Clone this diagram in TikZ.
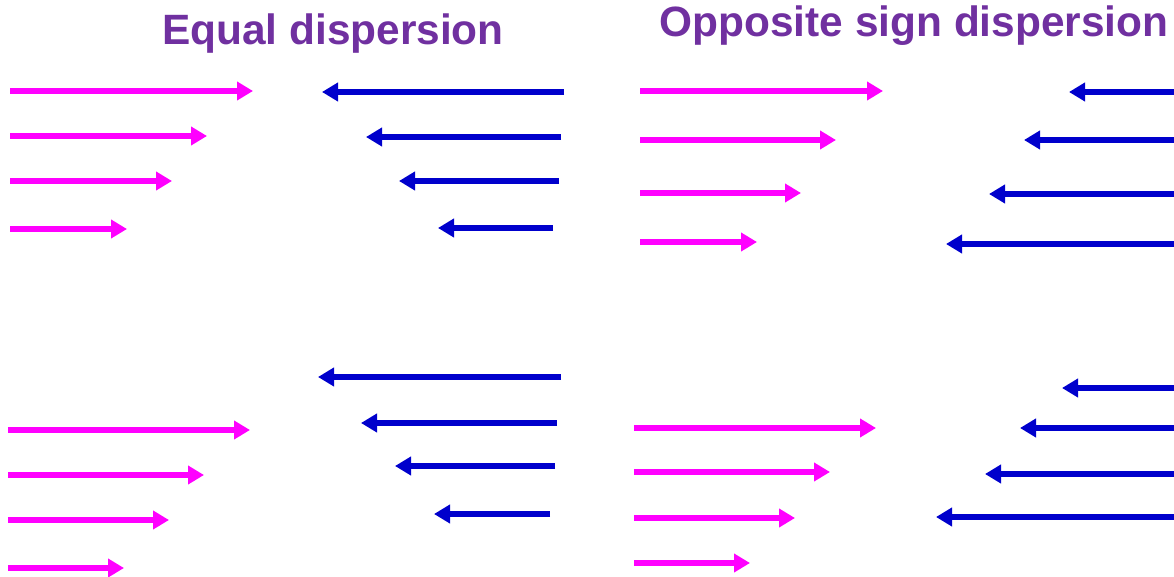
\documentclass[tikz,border=0pt]{standalone}
\usepackage{fontspec}
\setmainfont{Liberation Sans}
\usetikzlibrary{arrows.meta}
\definecolor{titlepurple}{HTML}{7030A0}
\definecolor{pulsemag}{HTML}{FF00FF}
\definecolor{pulseblue}{HTML}{0000CC}
\tikzset{
  pulse/.style={line width=5.8pt, -{Triangle[length=16pt,width=18pt]}},
  heading/.style={font=\fontsize{42.4}{46}\selectfont\bfseries, text=titlepurple, anchor=base, inner sep=0pt}
}
\begin{document}
\begin{tikzpicture}[x=1pt, y=-1pt]
  \useasboundingbox (0,0) rectangle (1174,577);
  \node[heading] (eqtitle) at (333,45) {Equal dispersion};
  \node[heading] (optitle) at (914,37) {Opposite sign dispersion};
  % magenta pulses: y / start / tip
  \foreach \y/\xa/\xb in {91/10/253, 136/10/207, 181/10/172, 229/10/127,
      91/640/883, 140/640/836, 193/640/801, 242/640/757,
      430/8/250, 475/8/204, 520/8/169, 568/8/124,
      428/634/876, 472/634/830, 518/634/795, 563/634/750}
    \draw[pulse, pulsemag] (\xa,\y) -- (\xb,\y);
  % blue pulses: y / start / tip
  \foreach \y/\xa/\xb in {92/564/322, 137/561/366, 181/559/399, 228/553/438,
      92/1174/1069, 140/1174/1024, 194/1174/989, 244/1174/946,
      377/561/318, 423/557/361, 466/555/395, 514/550/434,
      388/1174/1062, 428/1174/1020, 474/1174/985, 517/1174/936}
    \draw[pulse, pulseblue] (\xa,\y) -- (\xb,\y);
\end{tikzpicture}
\end{document}
